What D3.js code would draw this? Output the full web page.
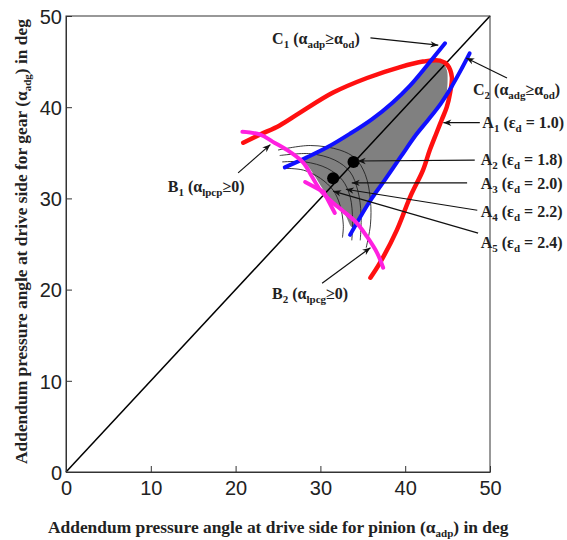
<!DOCTYPE html>
<html>
<head>
<meta charset="utf-8">
<script src="https://cdn.jsdelivr.net/npm/d3@7"></script>
<style>
  html, body { margin: 0; padding: 0; background: #fff; }
  svg { display: block; }
  .tick-label { font-family: "Liberation Sans", Arial, sans-serif; font-size: 20px; fill: #222; }
  .ann { font-family: "Liberation Serif", "Times New Roman", serif; font-weight: bold; font-size: 16px; fill: #222; }
  .title { font-family: "Liberation Serif", "Times New Roman", serif; font-weight: bold; font-size: 17.4px; fill: #222; }
</style>
</head>
<body>
<svg id="chart" width="567" height="540"></svg>
<script>
// Axis ticks (degrees)
const xTicks = [0, 10, 20, 30, 40, 50];
const yTicks = [0, 10, 20, 30, 40, 50];

// A1: contact ratio boundary εd = 1.0  [alpha_adp, alpha_adg]
const curveA1 = [
  [20.9, 36.1], [22.9, 37.0], [25.2, 38.0], [27.6, 39.4], [31.5, 41.6], [35.5, 43.2],
  [39.4, 44.4], [42.1, 45.0], [44.1, 45.1], [45.0, 44.6], [45.5, 43.3], [45.3, 41.6],
  [44.9, 40.0], [44.3, 38.6], [43.7, 37.2], [42.9, 35.3], [42.1, 33.1], [40.6, 30.2],
  [39.0, 26.5], [37.0, 22.9], [35.9, 21.3]
];

// C1: alpha_adp >= alpha_od
const curveC1 = [
  [25.8, 33.4], [28.4, 34.5], [30.8, 35.6], [33.5, 37.1], [36.1, 38.7], [38.5, 40.5],
  [40.6, 42.4], [42.6, 44.6], [44.7, 47.0]
];

// C2: alpha_adg >= alpha_od
const curveC2 = [
  [47.6, 45.9], [46.7, 44.3], [45.5, 42.3], [44.2, 40.4], [42.7, 38.6], [41.3, 37.0],
  [39.5, 34.6], [37.5, 31.9], [35.7, 29.5], [33.5, 26.0]
];

// B1 / B2: tip land limits alpha_lpcp >= 0, alpha_lpcg >= 0
const curveB = [
  [20.8, 37.3], [22.9, 37.0], [24.4, 36.2], [26.4, 35.1], [28.0, 33.9], [29.0, 32.4],
  [30.0, 30.9], [31.5, 29.5], [32.7, 28.6], [34.3, 27.3], [35.5, 25.8], [36.7, 24.0],
  [37.4, 22.4]
];
const curveBSpur = [[28.2, 31.8], [30.4, 30.7], [31.7, 28.4]];

// Feasible design area
const feasibleArea = [
  [27.8, 34.2], [30.8, 35.6], [33.5, 37.1], [36.1, 38.7], [38.5, 40.5], [40.6, 42.4],
  [42.6, 44.6], [43.6, 45.2], [44.4, 44.9], [44.9, 44.1], [45.0, 43.0], [44.8, 41.3], [44.2, 40.4],
  [42.7, 38.6], [41.3, 37.0], [39.5, 34.6], [37.5, 31.9], [35.7, 29.5], [33.8, 26.8],
  [32.9, 28.2], [31.7, 29.3], [30.5, 30.7], [29.5, 32.2], [28.4, 33.7]
];

// Contact ratio isolines εd = 1.8, 2.0, 2.2, 2.4
const isoA2 = [[25.0, 35.3], [28.8, 35.8], [32.3, 35.3], [34.1, 34.4], [35.3, 32.6], [35.9, 29.8], [35.9, 27.1], [35.4, 24.6]];
const isoA3 = [[25.2, 34.7], [28.8, 34.9], [31.7, 34.2], [33.5, 32.9], [34.4, 30.9], [34.8, 28.2], [34.7, 25.4]];
const isoA4 = [[25.5, 34.0], [28.2, 34.0], [30.8, 33.3], [32.6, 32.0], [33.5, 30.2], [33.8, 27.6], [33.7, 25.4]];
const isoA5 = [[25.8, 33.3], [28.0, 33.1], [30.0, 32.2], [31.5, 30.9], [32.3, 29.3], [32.7, 27.1], [32.6, 25.7]];

// Highlighted design points
const designPoints = [[33.9, 34.0], [31.5, 32.2]];

// Annotations: text parts (with subscripts), label anchor, arrow start and end (degrees)
const annotations = [
  { parts: [["C"], ["1", 1], [" (α"], ["adp", 1], ["≥α"], ["od", 1], [")"]], at: [24.3, 46.9], from: [35.9, 47.6], to: [43.9, 46.8] },
  { parts: [["C"], ["2", 1], [" (α"], ["adg", 1], ["≥α"], ["od", 1], [")"]], at: [48.0, 41.3], from: [52.0, 43.2], to: [47.2, 45.4] },
  { parts: [["A"], ["1", 1], [" (ε"], ["d", 1], [" = 1.0)"]], at: [49.1, 37.7], from: [48.8, 38.3], to: [44.5, 38.3] },
  { parts: [["A"], ["2", 1], [" (ε"], ["d", 1], [" = 1.8)"]], at: [48.9, 33.7], from: [48.2, 34.2], to: [34.4, 34.1] },
  { parts: [["A"], ["3", 1], [" (ε"], ["d", 1], [" = 2.0)"]], at: [48.9, 31.0], from: [47.3, 31.7], to: [33.7, 31.7] },
  { parts: [["A"], ["4", 1], [" (ε"], ["d", 1], [" = 2.2)"]], at: [48.9, 28.0], from: [48.5, 28.7], to: [33.0, 31.0] },
  { parts: [["A"], ["5", 1], [" (ε"], ["d", 1], [" = 2.4)"]], at: [48.9, 24.6], from: [48.6, 26.2], to: [31.5, 30.8] },
  { parts: [["B"], ["1", 1], [" (α"], ["lpcp", 1], ["≥0)"]], at: [12.0, 30.7], from: [20.3, 32.8], to: [24.1, 35.9] },
  { parts: [["B"], ["2", 1], [" (α"], ["lpcg", 1], ["≥0)"]], at: [24.3, 19.0], from: [30.2, 20.7], to: [35.9, 24.6] }
];

const W = 567, H = 540;
const margin = { top: 16, right: 77, bottom: 68, left: 66 };
const svg = d3.select("#chart");

const x = d3.scaleLinear().domain([0, 50]).range([margin.left, W - margin.right]);
const y = d3.scaleLinear().domain([0, 50]).range([H - margin.bottom, margin.top]);

const line = d3.line().x(d => x(d[0])).y(d => y(d[1])).curve(d3.curveCatmullRom.alpha(0.5));

// Arrowhead marker
svg.append("defs").append("marker")
  .attr("id", "arrow")
  .attr("viewBox", "0 0 10 10")
  .attr("refX", 10).attr("refY", 5)
  .attr("markerWidth", 9).attr("markerHeight", 8)
  .attr("markerUnits", "userSpaceOnUse")
  .attr("orient", "auto")
  .append("path")
  .attr("d", "M0,1 L10,5 L0,9 L3,5 Z")
  .attr("fill", "#111");

// Feasible area fill
svg.append("path")
  .datum(feasibleArea)
  .attr("d", d3.line().x(d => x(d[0])).y(d => y(d[1])).curve(d3.curveCatmullRomClosed.alpha(0.5)))
  .attr("fill", "#808080");

// Contact ratio isolines
[isoA2, isoA3, isoA4, isoA5].forEach(iso => {
  svg.append("path").datum(iso).attr("d", line)
    .attr("fill", "none").attr("stroke", "#222").attr("stroke-width", 0.9);
});

// Diagonal alpha_adp = alpha_adg
svg.append("line")
  .attr("x1", x(0)).attr("y1", y(0)).attr("x2", x(50)).attr("y2", y(50))
  .attr("stroke", "#000").attr("stroke-width", 1.5);

// Boundary curves
svg.append("path").datum(curveA1).attr("d", line)
  .attr("fill", "none").attr("stroke", "#ff1010").attr("stroke-width", 4.5).attr("stroke-linecap", "round");
svg.append("path").datum(curveC1).attr("d", line)
  .attr("fill", "none").attr("stroke", "#1010ff").attr("stroke-width", 4).attr("stroke-linecap", "round");
svg.append("path").datum(curveC2).attr("d", line)
  .attr("fill", "none").attr("stroke", "#1010ff").attr("stroke-width", 4).attr("stroke-linecap", "round");
svg.append("path").datum(curveB).attr("d", line)
  .attr("fill", "none").attr("stroke", "#ff20e0").attr("stroke-width", 4).attr("stroke-linecap", "round");
svg.append("path").datum(curveBSpur).attr("d", d3.line().x(d => x(d[0])).y(d => y(d[1])))
  .attr("fill", "none").attr("stroke", "#ff20e0").attr("stroke-width", 4).attr("stroke-linecap", "round");

// Design points
svg.selectAll("circle.pt").data(designPoints).join("circle")
  .attr("class", "pt")
  .attr("cx", d => x(d[0])).attr("cy", d => y(d[1])).attr("r", 6)
  .attr("fill", "#000");

// Frame
svg.append("rect")
  .attr("x", x(0)).attr("y", y(50))
  .attr("width", x(50) - x(0)).attr("height", y(0) - y(50))
  .attr("fill", "none").attr("stroke", "#333").attr("stroke-width", 1);

// Axes with inward ticks
const xAxis = svg.append("g").attr("transform", `translate(0,${y(0)})`)
  .call(d3.axisBottom(x).tickValues(xTicks).tickSizeInner(-6).tickSizeOuter(0).tickPadding(9));
const yAxis = svg.append("g").attr("transform", `translate(${x(0)},0)`)
  .call(d3.axisLeft(y).tickValues(yTicks).tickSizeInner(-6).tickSizeOuter(0).tickPadding(4));
[xAxis, yAxis].forEach(g => {
  g.select(".domain").attr("stroke", "#333");
  g.selectAll(".tick line").attr("stroke", "#333");
  g.selectAll(".tick text").attr("class", "tick-label").attr("font-size", null).attr("font-family", null);
});
xAxis.selectAll(".tick text").attr("dy", "0.71em");
yAxis.selectAll(".tick text").attr("dy", "0.36em");

// Rich text helper with subscripts
function richText(sel, parts, subSize, shift) {
  parts.forEach((p, i) => {
    const t = sel.append("tspan").text(p[0]);
    const prevSub = i > 0 && parts[i - 1][1];
    if (p[1]) t.attr("font-size", subSize).attr("dy", prevSub ? 0 : shift);
    else t.attr("dy", prevSub ? -shift : 0);
  });
}

// Annotation arrows and labels
annotations.forEach(a => {
  svg.append("line")
    .attr("x1", x(a.from[0])).attr("y1", y(a.from[1]))
    .attr("x2", x(a.to[0])).attr("y2", y(a.to[1]))
    .attr("stroke", "#111").attr("stroke-width", 1.2)
    .attr("marker-end", "url(#arrow)");
});
annotations.forEach(a => {
  const t = svg.append("text").attr("class", "ann")
    .attr("x", x(a.at[0])).attr("y", y(a.at[1]));
  richText(t, a.parts, 11, 4);
});

// Axis titles
const xTitle = svg.append("text").attr("class", "title")
  .attr("x", 48).attr("y", 533);
richText(xTitle, [["Addendum pressure angle at drive side for pinion (α"], ["adp", 1], [") in deg"]], 11, 4);

const yTitle = svg.append("text").attr("class", "title")
  .attr("transform", "translate(27,464) rotate(-90)");
richText(yTitle, [["Addendum pressure angle at drive side for gear (α"], ["adg", 1], [") in deg"]], 11, 4);
</script>
</body>
</html>
